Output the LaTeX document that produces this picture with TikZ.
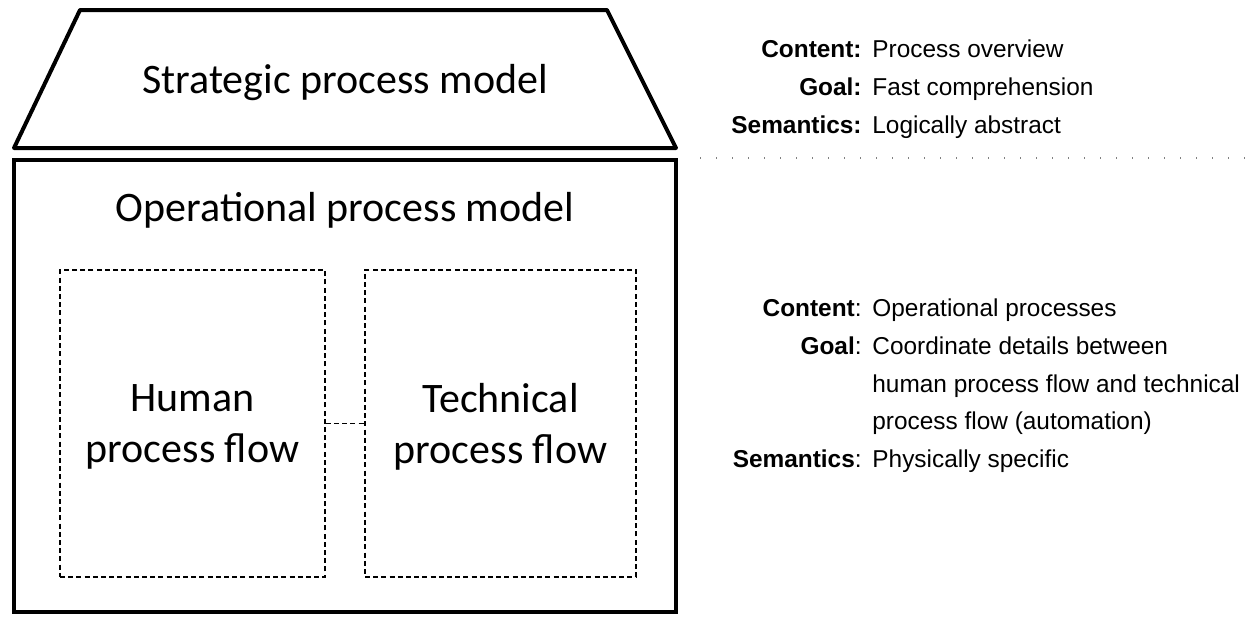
\documentclass[tikz,border=0pt]{standalone}
\usepackage{fontspec}
\setmainfont{Carlito}
\newfontfamily\infofont{Liberation Sans}
\usepackage{tikz}
\usetikzlibrary{arrows}

\begin{document}
\begin{tikzpicture}[x=0.5pt, y=-0.5pt,
    thickbox/.style = {draw, line width=2pt},
    flowbox/.style  = {draw, line width=0.75pt, dash pattern=on 2.5pt off 1.6pt,
                       align=center, text depth=0pt, font=\fontsize{21}{25.5}\selectfont},
    label/.style    = {anchor=base east, inner sep=0pt, font=\infofont\fontsize{12.2}{14}\selectfont},
    value/.style    = {anchor=base west, inner sep=0pt, font=\infofont\fontsize{12.2}{14}\selectfont}]
  \useasboundingbox (0,0) rectangle (1257,621);

  % strategic level
  \draw [line width=2pt, line join=round] (14,148) -- (80,10) -- (607,10) -- (676,148) -- cycle;
  \node (strategic) at (345,83) {\fontsize{21}{25}\selectfont Strategic process model};

  % operational level
  \node [thickbox, minimum width=331pt, minimum height=226pt] (operational) at (345,386) {};
  \node (optitle) at (345,210) {\fontsize{21}{25}\selectfont Operational process model};
  \node [flowbox, minimum width=132.5pt, minimum height=153.5pt] (human) at (192.5,423.5) {Human\\process flow};
  \node [flowbox, minimum width=135.5pt, minimum height=153.5pt] (technical) at (500.5,423.5) {Technical\\process flow};
  \draw [line width=0.75pt, dash pattern=on 2.5pt off 1.6pt] (human.east) -- (technical.west);

  % separator
  \coordinate (SL) at (700,158);
  \coordinate (SR) at (1245,158);
  \draw [gray, line width=0.8pt, dash pattern=on 0.6pt off 7.4pt] (SL) -- (SR);

  % upper description
  \node [label] (C1) at (862,57) {\textbf{Content:}};
  \node [label] (G1) at (862,95) {\textbf{Goal:}};
  \node [label] (S1) at (862,133) {\textbf{Semantics:}};
  \node [value] (c1) at (872,57) {Process overview};
  \node [value] (g1) at (872,95) {Fast comprehension};
  \node [value] (s1) at (872,133) {Logically abstract};

  % lower description
  \node [label] (C2) at (862,316) {\textbf{Content}:};
  \node [label] (G2) at (862,354) {\textbf{Goal}:};
  \node [label] (S2) at (862,467) {\textbf{Semantics}:};
  \node [value] (c2) at (872,316) {Operational processes};
  \node [value] (g2) at (872,354) {Coordinate details between};
  \node [value] (g3) at (872,392) {human process flow and technical};
  \node [value] (g4) at (872,429) {process flow (automation)};
  \node [value] (s2) at (872,467) {Physically specific};
\end{tikzpicture}
\end{document}
